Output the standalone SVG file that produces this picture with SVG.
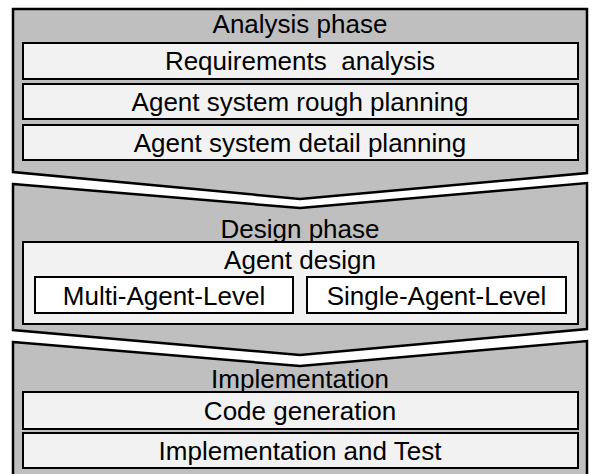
<svg xmlns="http://www.w3.org/2000/svg" width="592" height="474" viewBox="0 0 592 474">
<style>
.phase{fill:#bfbfbf;stroke:#000;stroke-width:2.5;stroke-linejoin:miter}
.row{fill:#f2f2f2;stroke:#000;stroke-width:2}
.sub{fill:#fff;stroke:#000;stroke-width:2}
text{font-family:"Liberation Sans",Arial,sans-serif;font-size:26px;fill:#000;text-anchor:middle}
</style>
<rect width="592" height="474" fill="#fff"/>
<g id="analysis">
<polygon class="phase" points="13,9 587,9 587,173 300,199 13,172"/>
<text x="300" y="33">Analysis phase</text>
</g>
<g id="requirements">
<rect class="row" x="23" y="43" width="555" height="36"/>
<text x="300" y="70" xml:space="preserve">Requirements  analysis</text>
</g>
<g id="rough">
<rect class="row" x="23" y="84" width="555" height="35"/>
<text x="300" y="111">Agent system rough planning</text>
</g>
<g id="detail">
<rect class="row" x="23" y="125" width="555" height="35"/>
<text x="300" y="152">Agent system detail planning</text>
</g>
<g id="design">
<polygon class="phase" points="13,184 300,208 587,183 587,329 300,355 13,330"/>
<text x="300" y="238">Design phase</text>
</g>
<g id="agentdesign">
<rect class="row" x="23" y="242" width="555" height="82"/>
<text x="300" y="269">Agent design</text>
</g>
<g id="multi">
<rect class="sub" x="35" y="277" width="258" height="36"/>
<text x="164" y="305">Multi-Agent-Level</text>
</g>
<g id="single">
<rect class="sub" x="307" y="277" width="259" height="36"/>
<text x="436.5" y="305">Single-Agent-Level</text>
</g>
<g id="implementation">
<polygon class="phase" points="13,342 300,366 587,341 587,480 13,480"/>
<text x="300" y="388">Implementation</text>
</g>
<g id="codegen">
<rect class="row" x="23" y="392" width="555" height="37"/>
<text x="300" y="420">Code generation</text>
</g>
<g id="impltest">
<rect class="row" x="23" y="433" width="555" height="35"/>
<text x="300" y="460">Implementation and Test</text>
</g>
<g id="connectors"/>
</svg>
